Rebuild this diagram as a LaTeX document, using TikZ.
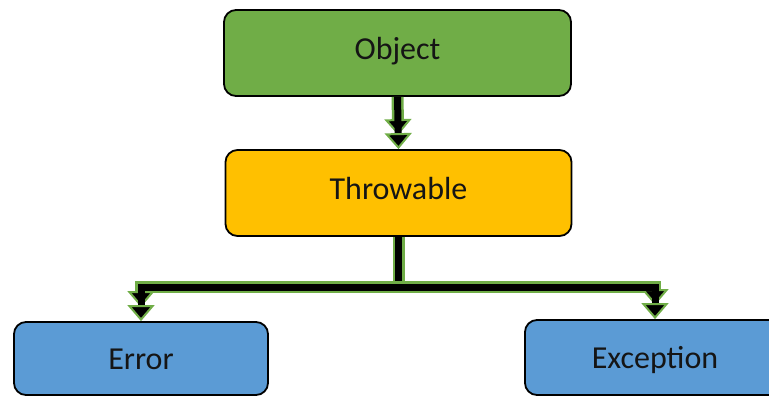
\documentclass[tikz,border=0pt]{standalone}
\usepackage{fontspec}
\setmainfont{Carlito}
\usetikzlibrary{arrows.meta}
\definecolor{objgreen}{HTML}{70AD47}
\definecolor{throwgold}{HTML}{FFC000}
\definecolor{errblue}{HTML}{5B9BD5}
\definecolor{rimgreen}{HTML}{70AD47}
\definecolor{labelink}{HTML}{151515}
\tikzset{
  classbox/.style={draw=black, line width=1.8pt, rounded corners=12pt,
    text=labelink, font=\fontsize{32}{38}\selectfont,
    text height=21pt, text depth=0pt, inner sep=0pt},
  raised/.style={text depth=9pt},
  headtip/.tip={Triangle[width=27pt,length=16pt,line width=2pt,fill=black,color=rimgreen]},
}
\begin{document}
\begin{tikzpicture}[x=1pt, y=-1pt]
  \useasboundingbox (0,0) rectangle (769,397);

  % class boxes
  \node[classbox, raised, fill=objgreen, minimum width=347pt, minimum height=86pt]
    (obj) at (397.5,53) {Object};
  \node[classbox, raised, fill=throwgold, minimum width=346pt, minimum height=86pt]
    (thr) at (398.5,193) {Throwable};
  \node[classbox, fill=errblue, minimum width=254pt, minimum height=73pt]
    (err) at (141,358.5) {Error};
  \node[classbox, fill=errblue, minimum width=260pt, minimum height=75pt]
    (exc) at (655,357.5) {Exception};

  \coordinate (bar) at (398.5,287);

  % Object -> Throwable
  \draw[draw=black, line width=7pt,
        preaction={draw=rimgreen, line width=12pt, shorten >=14pt}, -headtip]
    (obj.south) -- (thr.north);

  % stem from Throwable down to the branching bar
  \draw[draw=black, line width=7pt, preaction={draw=rimgreen, line width=12pt}]
    (thr.south) -- (bar);

  % branching bar with arrows to Error and Exception
  \draw[draw=black, line width=7pt, line join=miter,
        preaction={draw=rimgreen, line width=12pt, line join=miter,
                   shorten <=14pt, shorten >=14pt},
        headtip-headtip]
    (err.north) |- (bar) -| (exc.north);
\end{tikzpicture}
\end{document}
